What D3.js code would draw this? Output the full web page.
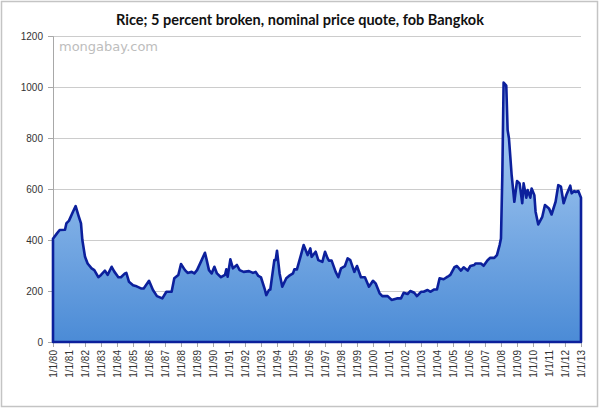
<!DOCTYPE html>
<html>
<head>
<meta charset="utf-8">
<script src="https://cdn.jsdelivr.net/npm/d3@7"></script>
<style>
  html, body { margin: 0; padding: 0; background: #fff; }
  svg { display: block; }
</style>
</head>
<body>
<div id="chart"></div>
<script>
// Monthly quotes (US$/tonne), Jan 1980 .. Jan 2013
const months = [
  "1980-01","1980-04","1980-06","1980-10","1980-11","1981-01","1981-04","1981-06","1981-08","1981-10",
  "1981-11","1982-01","1982-03","1982-06","1982-08","1982-11","1983-01","1983-04","1983-06","1983-09",
  "1983-11","1984-02","1984-04","1984-07","1984-08","1984-10","1985-01","1985-03","1985-07","1985-09",
  "1986-01","1986-04","1986-07","1986-11","1987-02","1987-06","1987-08","1987-11","1988-01","1988-04",
  "1988-06","1988-09","1988-11","1989-01","1989-04","1989-07","1989-08","1989-10","1989-12","1990-02",
  "1990-04","1990-07","1990-10","1990-11","1990-12","1991-02","1991-04","1991-07","1991-09","1991-12",
  "1992-04","1992-07","1992-09","1992-11","1993-01","1993-04","1993-05","1993-07","1993-08","1993-11",
  "1993-12","1994-01","1994-03","1994-05","1994-08","1994-10","1995-01","1995-02","1995-04","1995-07",
  "1995-09","1995-12","1996-02","1996-03","1996-06","1996-08","1996-11","1997-01","1997-03","1997-04",
  "1997-06","1997-09","1997-11","1998-01","1998-04","1998-06","1998-08","1998-11","1999-01","1999-04",
  "1999-07","1999-10","2000-01","2000-03","2000-06","2000-08","2000-12","2001-03","2001-07","2001-10",
  "2001-12","2002-03","2002-05","2002-08","2002-10","2003-01","2003-03","2003-06","2003-08","2003-11",
  "2004-01","2004-03","2004-06","2004-09","2004-11","2005-02","2005-04","2005-07","2005-09","2005-12",
  "2006-02","2006-05","2006-06","2006-10","2006-12","2007-03","2007-05","2007-08","2007-10","2007-12",
  "2008-01","2008-02","2008-03","2008-05","2008-06","2008-07","2008-08","2008-09","2008-11","2009-01",
  "2009-03","2009-05","2009-06","2009-08","2009-09","2009-11","2009-12","2010-02","2010-03","2010-05",
  "2010-08","2010-10","2011-01","2011-03","2011-06","2011-08","2011-10","2011-12","2012-02","2012-05",
  "2012-06","2012-08","2012-09","2012-11","2013-01"
];
const prices = [
  405, 426, 439, 440, 465, 476, 511, 533, 498, 465,
  400, 334, 308, 289, 282, 254, 263, 280, 263, 295,
  276, 254, 254, 269, 271, 236, 223, 220, 210, 210,
  240, 204, 180, 171, 197, 197, 250, 263, 306, 282,
  271, 275, 269, 282, 315, 350, 328, 282, 269, 295,
  269, 254, 263, 285, 256, 324, 289, 302, 282, 275,
  278, 271, 275, 259, 253, 204, 184, 204, 206, 321,
  321, 358, 269, 217, 250, 259, 269, 285, 285, 341,
  380, 341, 367, 334, 354, 321, 314, 354, 328, 319,
  319, 275, 254, 289, 298, 328, 321, 275, 298, 254,
  254, 217, 240, 230, 191, 180, 180, 165, 171, 171,
  193, 188, 200, 193, 180, 197, 197, 204, 197, 206,
  206, 250, 246, 256, 263, 293, 298, 280, 293, 280,
  298, 302, 308, 308, 299, 321, 330, 330, 341, 380,
  406, 654, 1017, 1005, 831, 799, 727, 654, 550, 631,
  622, 544, 622, 566, 596, 566, 602, 576, 511, 461,
  491, 537, 524, 500, 550, 615, 609, 544, 576, 613,
  583, 592, 588, 592, 566
];
const yTicks = [0, 200, 400, 600, 800, 1000, 1200];
const tickYears = d3.range(1980, 2014);

const chartTitle = "Rice; 5 percent broken, nominal price quote, fob Bangkok";

const width = 600;
const height = 409;
const margin = { top: 36, right: 18, bottom: 67, left: 53 };

const parseMonth = d3.timeParse("%Y-%m");
const data = months.map((m, i) => ({ date: parseMonth(m), value: prices[i] }));

const svg = d3.select("#chart")
    .append("svg")
    .attr("width", width)
    .attr("height", height);

// outer frame
svg.append("rect")
    .attr("x", 1.5)
    .attr("y", 1.5)
    .attr("width", 596)
    .attr("height", 405)
    .attr("fill", "#fff")
    .attr("stroke", "#c4c4c4")
    .attr("stroke-width", 1.5);

const xScale = d3.scaleTime()
    .domain([new Date(1980, 0, 1), new Date(2013, 0, 1)])
    .range([margin.left, width - margin.right - 1]);

const yScale = d3.scaleLinear()
    .domain([0, 1200])
    .range([height - margin.bottom, margin.top]);

// gradient for the area
const grad = svg.append("defs").append("linearGradient")
    .attr("id", "areaFill")
    .attr("gradientUnits", "userSpaceOnUse")
    .attr("x1", 0).attr("x2", 0)
    .attr("y1", yScale(1020)).attr("y2", yScale(0));
grad.append("stop").attr("offset", "0%").attr("stop-color", "#b6d5f6");
grad.append("stop").attr("offset", "100%").attr("stop-color", "#4b8bd6");

// horizontal gridlines
svg.append("g")
    .selectAll("line")
    .data(yTicks.filter(d => d > 0))
    .enter()
    .append("line")
    .attr("x1", margin.left)
    .attr("x2", xScale.range()[1])
    .attr("y1", d => Math.round(yScale(d)) + 0.5)
    .attr("y2", d => Math.round(yScale(d)) + 0.5)
    .attr("stroke", "#cccccc")
    .attr("stroke-width", 1);

// y axis
const yAxis = d3.axisLeft(yScale)
    .tickValues(yTicks)
    .tickFormat(d3.format("d"))
    .tickSize(5)
    .tickPadding(5);
const gy = svg.append("g")
    .attr("transform", `translate(${margin.left}, 0)`)
    .call(yAxis);
gy.select(".domain").attr("stroke", "#a8a8a8");
gy.selectAll(".tick line").attr("stroke", "#a8a8a8");
gy.selectAll("text")
    .attr("fill", "#333")
    .style("font-family", "'Liberation Sans', Arial, sans-serif")
    .style("font-size", "10px");

// x axis
const xAxis = d3.axisBottom(xScale)
    .tickValues(tickYears.map(y => new Date(y, 0, 1)))
    .tickFormat(d3.timeFormat("1/1/%y"))
    .tickSize(5)
    .tickSizeOuter(0);
const gx = svg.append("g")
    .attr("transform", `translate(0, ${yScale(0)})`)
    .call(xAxis);
gx.select(".domain").attr("stroke", "#a8a8a8");
gx.selectAll(".tick line").attr("stroke", "#a8a8a8");
gx.selectAll("text")
    .attr("fill", "#333")
    .style("font-family", "'Liberation Sans', Arial, sans-serif")
    .style("font-size", "10px")
    .attr("transform", "rotate(-90)")
    .attr("text-anchor", "end")
    .attr("x", -8)
    .attr("y", 0)
    .attr("dy", "0.35em");

// area with dark outline
const area = d3.area()
    .x(d => xScale(d.date))
    .y0(yScale(0))
    .y1(d => yScale(d.value));

svg.append("path")
    .datum(data)
    .attr("d", area)
    .attr("fill", "url(#areaFill)")
    .attr("stroke", "#0c209c")
    .attr("stroke-width", 2.6)
    .attr("stroke-linejoin", "round");

// title
svg.append("text")
    .attr("x", width / 2)
    .attr("y", 25)
    .attr("text-anchor", "middle")
    .style("font-family", "Lato, 'Open Sans', sans-serif")
    .style("font-weight", "bold")
    .style("font-size", "14.5px")
    .attr("fill", "#111")
    .text(chartTitle);

// watermark
svg.append("text")
    .attr("x", 59)
    .attr("y", 51)
    .style("font-family", "'DejaVu Sans', Verdana, sans-serif")
    .style("font-size", "13px")
    .attr("fill", "#bdbdbd")
    .text("mongabay.com");
</script>
</body>
</html>
